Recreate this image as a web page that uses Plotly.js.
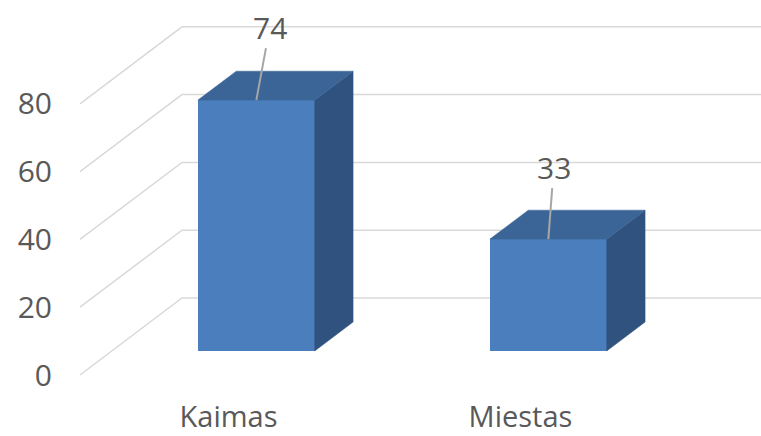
<!DOCTYPE html>
<html>
<head>
<meta charset="utf-8">
<script src="https://cdn.plot.ly/plotly-3.0.1.min.js"></script>
<style>html,body{margin:0;padding:0;background:#fff;}#chart{width:761px;height:436px;}</style>
</head>
<body>
<div id="chart"></div>
<script>
// ---- data ----
const categories = ['Kaimas', 'Miestas'];
const values = [74, 33];
const yTickVals = [0, 20, 40, 60, 80];
const yTickText = ['0', '20', '40', '60', '80'];

// ---- 3D oblique projection settings (axis units) ----
const PX_PER_X = 292, PX_PER_Y = 3.39;
const DX = 102 / PX_PER_X;      // depth shift in x units (front plane -> back wall)
const DY = 77 / PX_PER_Y;       // depth shift in y units
const D0 = 0.312, D1 = 0.688;   // bar front / back depth
const HALF_W = 0.2;             // half bar width
const WALL_X = -0.495;          // left wall position
const RIGHT_X = 3;

function proj(x, v, d) { return [x + d * DX, v + d * DY]; }

const fontFam = '"Open Sans", "Liberation Sans", sans-serif';
const textCol = '#595959';
const gridCol = '#d9d9d9';
const frontCol = '#4b7ebc', topCol = '#3b6596', sideCol = '#30527f';

const traces = [];
const shapes = [];

// gridlines: left wall diagonal + back wall horizontal (drawn below all traces)
yTickVals.forEach(v => {
  const pts = [proj(WALL_X, v, 0), proj(WALL_X, v, 1), proj(RIGHT_X, v, 1)];
  shapes.push({type: 'path', xref: 'x', yref: 'y', layer: 'below',
    path: 'M' + pts.map(p => p[0] + ',' + p[1]).join(' L'),
    line: {color: gridCol, width: 1.5}});
});

function poly(pts, color) {
  const xs = pts.map(p => p[0]), ys = pts.map(p => p[1]);
  xs.push(xs[0]); ys.push(ys[0]);
  traces.push({type: 'scatter', mode: 'lines', x: xs, y: ys, fill: 'toself', fillcolor: color,
    line: {color: color, width: 0.5}, hoverinfo: 'skip', showlegend: false});
}

values.forEach((v, i) => {
  // side face
  poly([proj(i + HALF_W, 0, D0), proj(i + HALF_W, 0, D1), proj(i + HALF_W, v, D1), proj(i + HALF_W, v, D0)], sideCol);
  // top face
  poly([proj(i - HALF_W, v, D0), proj(i + HALF_W, v, D0), proj(i + HALF_W, v, D1), proj(i - HALF_W, v, D1)], topCol);
});

// front faces as a real bar trace
traces.push({
  type: 'bar',
  x: categories.map((c, i) => proj(i, 0, D0)[0]),
  y: values,
  base: values.map(() => proj(0, 0, D0)[1]),
  width: 2 * HALF_W,
  marker: {color: frontCol, line: {width: 0}},
  hoverinfo: 'skip', showlegend: false
});

// data labels with leader lines
const labelOffsets = [[13.5, -73], [5.5, -72]];
const annotations = values.map((v, i) => {
  const p = proj(i, v, D0);
  return {x: p[0], y: p[1], xref: 'x', yref: 'y', text: String(v), showarrow: true,
    arrowhead: 0, arrowwidth: 2, arrowcolor: '#a6a6a6', ax: labelOffsets[i][0], ay: labelOffsets[i][1],
    font: {family: fontFam, size: 30, color: textCol}, borderpad: 0};
});

const layout = {
  width: 761, height: 436,
  margin: {l: 58, r: 0, t: 0, b: 45},
  paper_bgcolor: '#ffffff', plot_bgcolor: 'rgba(0,0,0,0)',
  showlegend: false,
  bargap: 0,
  xaxis: {range: [-0.5702, 1.8373], tickmode: 'array', tickvals: [0, 1], ticktext: categories,
    showgrid: false, zeroline: false, showline: false, ticks: '', ticklabelstandoff: 6, ticklabelshift: 4,
    tickfont: {family: fontFam, size: 29, color: textCol}, fixedrange: true},
  yaxis: {range: [-4.72, 110.62], tickmode: 'array', tickvals: yTickVals, ticktext: yTickText,
    showgrid: false, zeroline: false, showline: false, ticks: '', ticklabelstandoff: 5,
    tickfont: {family: fontFam, size: 30, color: textCol}, fixedrange: true},
  shapes: shapes,
  annotations: annotations,
  font: {family: fontFam, color: textCol}
};

Plotly.newPlot('chart', traces, layout, {staticPlot: true, displayModeBar: false});
</script>
</body>
</html>
